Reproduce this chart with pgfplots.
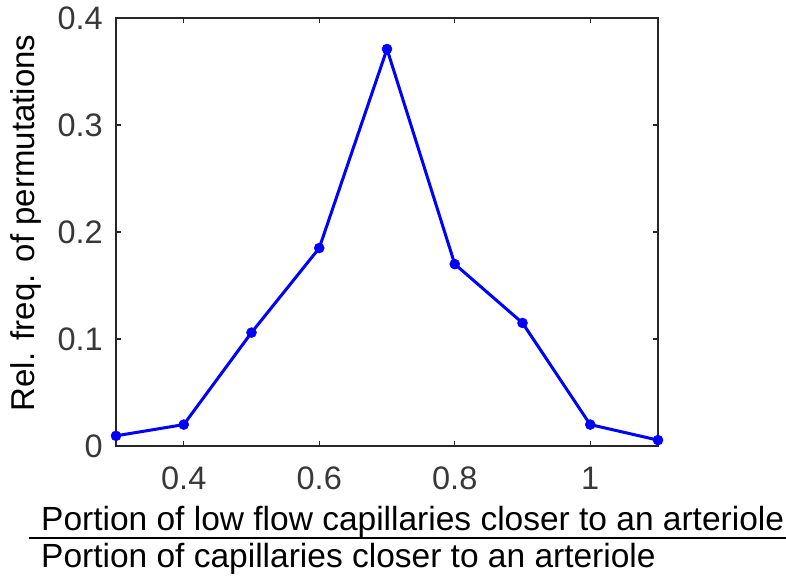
\documentclass[border=0pt]{standalone}
\usepackage{pgfplots}
\pgfplotsset{compat=1.18}
\usepackage{fontspec}
\setmainfont{Liberation Sans}
\definecolor{axgray}{gray}{0.15}
\definecolor{tickgray}{gray}{0.22}
\definecolor{mblue}{RGB}{0,0,255}
\begin{document}
\begin{tikzpicture}
\path[use as bounding box] (-116bp,-133bp) rectangle (670bp,446bp);
\begin{axis}[
  at={(0,0)}, anchor=origin,
  scale only axis,
  width=542bp, height=428bp,
  xmin=0.3, xmax=1.1, ymin=0, ymax=0.4,
  xtick={0.4,0.6,0.8,1}, xticklabels={0.4,0.6,0.8,1},
  ytick={0,0.1,0.2,0.3,0.4}, yticklabels={0,0.1,0.2,0.3,0.4},
  tick align=inside, tick pos=both,
  major tick length=5bp,
  axis line style={axgray, line width=1.3bp},
  every tick/.style={axgray, line width=1.3bp},
  /pgf/number format/assume math mode=true,
  tick label style={font=\fontsize{32.5bp}{38bp}\selectfont, text=tickgray, inner sep=0pt},
  xticklabel style={anchor=north, yshift=-21bp},
  yticklabel style={anchor=east, xshift=-13bp},
  clip=false,
]
\addplot[mblue, line width=3bp, mark=*, mark size=5bp, mark options={fill=mblue, draw=mblue, line width=0.5bp}]
coordinates {
(0.3,0.0095) (0.4,0.020) (0.5,0.106) (0.6,0.185) (0.7,0.371)
(0.8,0.170) (0.9,0.115) (1.0,0.020) (1.1,0.0055)
};
\end{axis}
\node[rotate=90, anchor=base, inner sep=0pt, font=\fontsize{33bp}{38bp}\selectfont] at (-81bp,223bp) {Rel. freq. of permutations};
\node[anchor=base west, inner sep=0pt, font=\fontsize{33.5bp}{38bp}\selectfont] at (-75bp,-84bp) {Portion of low flow capillaries closer to an arteriole};
\draw[black, line width=2bp] (-87bp,-92bp) -- (670bp,-92bp);
\node[anchor=base west, inner sep=0pt, font=\fontsize{33.5bp}{38bp}\selectfont] at (-75bp,-121bp) {Portion of capillaries closer to an arteriole};
\end{tikzpicture}
\end{document}
